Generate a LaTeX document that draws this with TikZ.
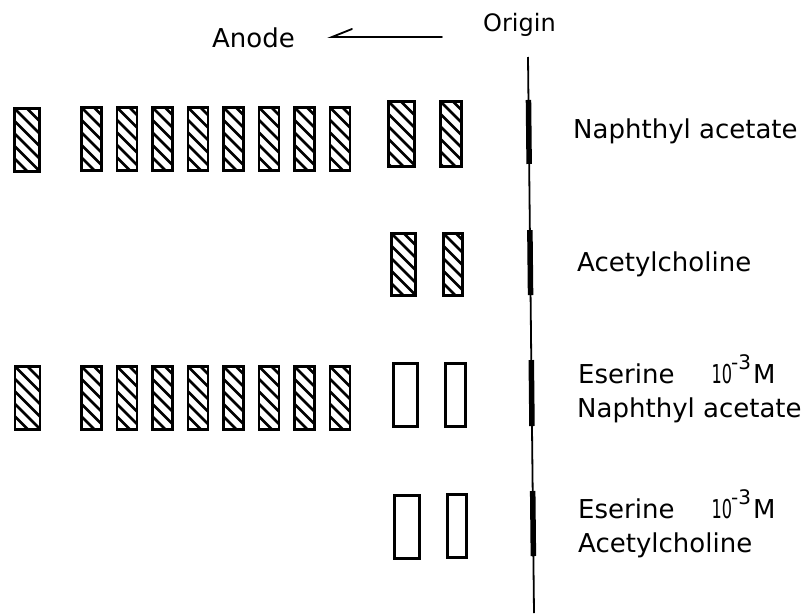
\documentclass[tikz,border=0pt]{standalone}
\usepackage{fontspec}
\usepackage{graphicx}
\setmainfont{DejaVu Sans}
\usetikzlibrary{calc}
\newcommand{\esline}{Eserine\hspace{37pt}\scalebox{0.62}[1]{10}\kern-1pt\raisebox{14pt}{\fontsize{20}{20}\selectfont -3}\kern2pt M}
\begin{document}
\begin{tikzpicture}[x=1pt,y=-1pt,
  spot/.style={draw, line width=2.8pt, inner sep=0pt, minimum height=63pt},
  hatched/.style={spot, path picture={
      \foreach \k in {-8,...,4}{
        \draw[line width=2.6pt] ([xshift=\k*12.5pt]path picture bounding box.north west) -- ++(90pt,-90pt);}}},
  openspot/.style={spot},
  narrow/.style={minimum width=20pt},
  wide/.style={minimum width=25pt},
  band/.style={line width=5.5pt},
  lbl/.style={anchor=base west, inner sep=0pt, font=\fontsize{26}{30}\selectfont},
  arrowline/.style={line width=1.8pt, line cap=round},
]
\useasboundingbox (0,0) rectangle (803,613);

% header: direction of migration
\node[lbl] (anode) at (212,47) {Anode};
\node[lbl, font=\fontsize{24}{28}\selectfont] (origin) at (483,31) {Origin};
\coordinate (arrR) at (442,37);
\coordinate (arrL) at (332,37);
\draw[arrowline] (arrR) -- (arrL) -- ++(20,-8);

% origin line with application bands
\coordinate (ltop) at (528,57);
\coordinate (lbot) at (534,613);
\draw[line width=1.8pt] (ltop) -- (lbot);
\foreach \a/\b in {0.0773/0.1924, 0.3112/0.4281, 0.5450/0.6637, 0.7806/0.8975}{
  \draw[band] ($(ltop)!\a!(lbot)$) -- ($(ltop)!\b!(lbot)$);
}

% row 1: naphthyl acetate
\node[hatched, wide] (r1s) at (27,140) {};
\foreach \i in {0,...,7}{
  \node[hatched, narrow] (r1g\i) at ({91.5+\i*35.5},139) {};
}
\node[hatched, minimum width=26pt, minimum height=65pt] (r1a) at (401.5,134) {};
\node[hatched, minimum width=21pt, minimum height=65pt] (r1b) at (451,134) {};
\node[lbl] (t1) at (573,138) {Naphthyl acetate};

% row 2: acetylcholine
\node[hatched, minimum width=24.5pt, minimum height=62.5pt] (r2a) at (403.5,264.5) {};
\node[hatched, minimum width=19.5pt, minimum height=62.5pt] (r2b) at (453,264.5) {};
\node[lbl] (t2) at (577,271) {Acetylcholine};

% row 3: eserine + naphthyl acetate
\node[hatched, wide] (r3s) at (27.5,398) {};
\foreach \i in {0,...,7}{
  \node[hatched, narrow] (r3g\i) at ({91.5+\i*35.5},398) {};
}
\node[openspot, minimum width=24.5pt] (r3a) at (405.5,395) {};
\node[openspot, minimum width=20.5pt] (r3b) at (455.5,395) {};
\node[lbl] (t3a) at (578,383) {\esline};
\node[lbl] (t3b) at (577,417) {Naphthyl acetate};

% row 4: eserine + acetylcholine
\node[openspot, minimum width=25.5pt] (r4a) at (407,527) {};
\node[openspot, minimum width=19.5pt] (r4b) at (457,526) {};
\node[lbl] (t4a) at (578,518) {\esline};
\node[lbl] (t4b) at (578,552) {Acetylcholine};
\end{tikzpicture}
\end{document}
